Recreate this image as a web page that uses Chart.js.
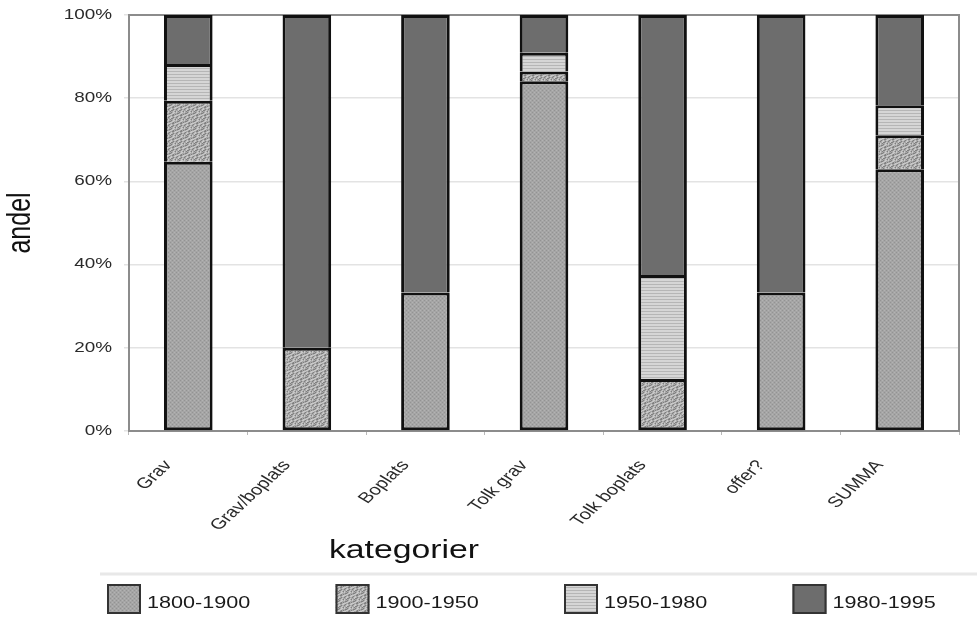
<!DOCTYPE html>
<html>
<head>
<meta charset="utf-8">
<script src="https://cdn.jsdelivr.net/npm/chart.js@4.4.0/dist/chart.umd.min.js"></script>
<style>
  html, body { margin: 0; padding: 0; background: #ffffff; }
  #wrap { width: 977px; height: 623px; position: relative; }
</style>
</head>
<body>
<div id="wrap"><canvas id="c"></canvas></div>
<script>
// ---------- DATA ----------
const categories = ['Grav', 'Grav/boplats', 'Boplats', 'Tolk grav', 'Tolk boplats', 'offer?', 'SUMMA'];
const seriesNames = ['1800-1900', '1900-1950', '1950-1980', '1980-1995'];
const s1800_1900 = [64.7, 0, 33.3, 84.1, 0, 33.3, 62.9];
const s1900_1950 = [14.7, 20.0, 0, 2.3, 12.5, 0, 8.2];
const s1950_1980 = [8.8, 0, 0, 4.5, 25.0, 0, 7.2];
const s1980_1995 = [11.8, 80.0, 66.7, 9.1, 62.5, 66.7, 21.7];
const yTickLabels = ['0%', '20%', '40%', '60%', '80%', '100%'];
const xTitle = 'kategorier';
const yTitle = 'andel';

// ---------- STYLE ----------
const FONT = '"Liberation Sans", Arial, sans-serif';
const SX = 1.35; // horizontal text stretch, as in the reference

function makeCanvas(w, h) { const c = document.createElement('canvas'); c.width = w; c.height = h; return c; }
function patternDots() {
  const c = makeCanvas(4, 4), g = c.getContext('2d');
  g.fillStyle = '#a5a5a5'; g.fillRect(0, 0, 4, 4);
  g.fillStyle = '#939393'; g.fillRect(0, 0, 1, 1); g.fillRect(2, 2, 1, 1);
  g.fillStyle = '#b3b3b3'; g.fillRect(2, 0, 1, 1); g.fillRect(0, 2, 1, 1);
  return g.createPattern(c, 'repeat');
}
function patternSpeckle() {
  const map = [
    'LMMDMLLM',
    'MDDMLLMM',
    'MMLLMDMD',
    'LLMMDDML',
    'MDMLMMLL',
    'DMLLMDMM',
    'MMLDDMLM',
    'LMDMMLMD'
  ];
  const col = { L: '#c8c8c8', M: '#a8a8a8', D: '#808080' };
  const c = makeCanvas(8, 8), g = c.getContext('2d');
  for (let y = 0; y < 8; y++) for (let x = 0; x < 8; x++) {
    g.fillStyle = col[map[y][x]]; g.fillRect(x, y, 1, 1);
  }
  return g.createPattern(c, 'repeat');
}
function patternStripes() {
  const c = makeCanvas(2, 3), g = c.getContext('2d');
  g.fillStyle = '#d6d6d6'; g.fillRect(0, 0, 2, 3);
  g.fillStyle = '#b6b6b6'; g.fillRect(0, 2, 2, 1);
  return g.createPattern(c, 'repeat');
}
const fills = [patternDots(), patternSpeckle(), patternStripes(), '#6d6d6d'];
const seriesValues = [s1800_1900, s1900_1950, s1950_1980, s1980_1995];

// ---------- canvas + text stretch ----------
const canvas = document.getElementById('c');
const ctx = canvas.getContext('2d');
const protoFill = CanvasRenderingContext2D.prototype.fillText;
ctx.fillText = function (t, x, y, mw) {
  const m = this.getTransform();
  const px = m.a * x + m.c * y + m.e;
  this.save();
  this.setTransform(new DOMMatrix([SX, 0, 0, 1, px - SX * px, 0]).multiply(m));
  if (mw === undefined) protoFill.call(this, t, x, y); else protoFill.call(this, t, x, y, mw);
  this.restore();
};

const datasets = seriesNames.map((name, k) => ({
  label: name,
  data: seriesValues[k],
  backgroundColor: fills[k],
  borderColor: '#111111',
  borderWidth: 3,
  borderSkipped: (c) => {
    const i = c.dataIndex;
    for (let j = 0; j < c.datasetIndex; j++) {
      if (c.chart.data.datasets[j].data[i]) return 'start';
    }
    return false;
  },
  barPercentage: 0.41,
  categoryPercentage: 1.0
}));

// layout constants for the plugin-drawn legend and x-axis title
const LEGEND = { x0: 107, step: 228.5, boxTop: 584, boxW: 34, boxH: 30, gap: 6, textY: 608, lineY: 574 };
const XTITLE = { x: 404, y: 558 };

const extrasPlugin = {
  id: 'extras',
  beforeDatasetsDraw(chart) {
    const a = chart.chartArea, g = chart.ctx;
    g.save();
    g.strokeStyle = '#8c8c8c';
    g.lineWidth = 2;
    g.strokeRect(a.left, a.top, a.right - a.left, a.bottom - a.top);
    g.restore();
  },
  afterDraw(chart) {
    const g = chart.ctx;
    g.save();
    // x axis title
    g.fillStyle = '#111111';
    g.font = '25px ' + FONT;
    g.textAlign = 'center';
    g.textBaseline = 'alphabetic';
    g.fillText(xTitle, XTITLE.x, XTITLE.y);
    // legend frame top line
    g.strokeStyle = '#e8e8e8';
    g.lineWidth = 3;
    g.beginPath();
    g.moveTo(100, LEGEND.lineY);
    g.lineTo(chart.width, LEGEND.lineY);
    g.stroke();
    // legend items
    g.font = '16px ' + FONT;
    g.textAlign = 'left';
    chart.data.datasets.forEach((ds, k) => {
      const bx = LEGEND.x0 + k * LEGEND.step;
      g.fillStyle = ds.backgroundColor;
      g.fillRect(bx, LEGEND.boxTop, LEGEND.boxW, LEGEND.boxH);
      g.strokeStyle = '#333333';
      g.lineWidth = 2;
      g.strokeRect(bx + 1, LEGEND.boxTop + 1, LEGEND.boxW - 2, LEGEND.boxH - 2);
      g.fillStyle = '#1a1a1a';
      g.fillText(ds.label, bx + LEGEND.boxW + LEGEND.gap, LEGEND.textY);
    });
    g.restore();
  }
};

new Chart(ctx, {
  type: 'bar',
  data: { labels: categories, datasets: datasets },
  options: {
    responsive: true,
    maintainAspectRatio: false,
    animation: false,
    events: [],
    layout: { padding: { left: 0, top: 15, right: 18, bottom: 52 } },
    plugins: {
      legend: { display: false },
      tooltip: { enabled: false },
      title: { display: false }
    },
    scales: {
      x: {
        stacked: true,
        afterFit: (s) => { s.height = 140; },
        border: { display: true, color: '#808080', width: 2 },
        grid: { offset: true, drawOnChartArea: false, drawTicks: true, tickLength: 4, color: '#b8b8b8', lineWidth: 1 },
        ticks: {
          autoSkip: false,
          maxRotation: 51,
          minRotation: 51,
          padding: 22,
          labelOffset: -20,
          color: '#2a2a2a',
          font: { family: FONT, size: 15 }
        }
      },
      y: {
        stacked: true,
        min: 0,
        max: 100,
        afterFit: (s) => { s.width = 129; s.paddingTop = 8; s.paddingBottom = 8; },
        border: { display: true, color: '#808080', width: 2 },
        grid: { color: '#e3e3e3', lineWidth: 1.5, tickLength: 5, drawTicks: true },
        ticks: {
          stepSize: 20,
          padding: 12,
          color: '#2a2a2a',
          font: { family: FONT, size: 14 },
          callback: (v, i) => yTickLabels[i]
        },
        title: {
          display: true,
          text: yTitle,
          color: '#111111',
          font: { family: FONT, size: 25 },
          padding: { top: 6, bottom: 0 }
        }
      }
    }
  },
  plugins: [extrasPlugin]
});
</script>
</body>
</html>
